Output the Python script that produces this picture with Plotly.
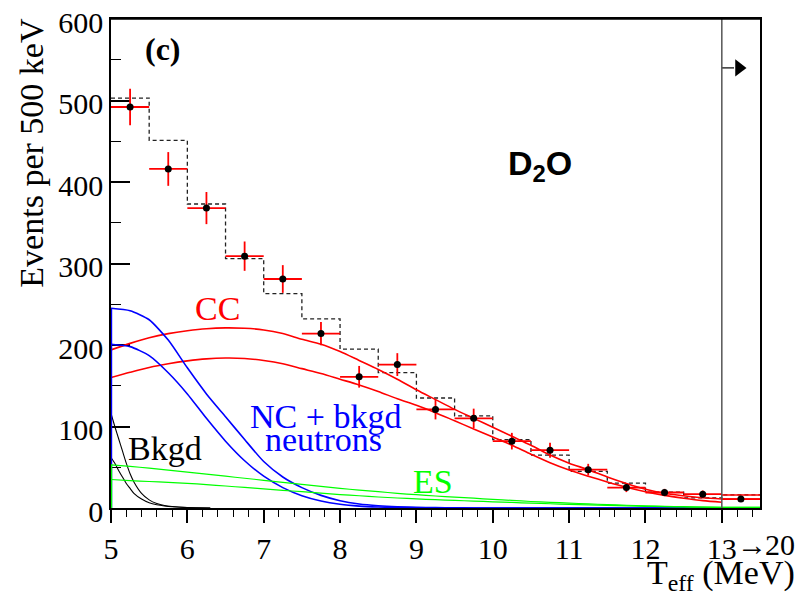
import plotly.graph_objects as go

# ---------------- data ----------------
bin_edges = [5.0, 5.5, 6.0, 6.5, 7.0, 7.5, 8.0, 8.5, 9.0, 9.5, 10.0, 10.5,
             11.0, 11.5, 12.0, 12.5, 13.0, 13.5]
bin_centers = [5.25, 5.75, 6.25, 6.75, 7.25, 7.75, 8.25, 8.75, 9.25, 9.75,
               10.25, 10.75, 11.25, 11.75, 12.25, 12.75, 13.25]
data_counts = [492, 416, 368, 309, 281, 214, 161, 176, 121, 110, 82, 71, 47,
               25, 19, 17, 11]
data_err = [22.5, 20.7, 19.7, 18, 17, 14.3, 13.3, 14, 12.3, 11.9, 10.2, 9.2,
            7.2, 5.5, 4.5, 4.5, 3.5]
mc_hist = [503, 451, 373, 306, 263, 232, 195, 166, 135, 113, 84, 65, 45, 30.5,
           19.5, 12.5, 16]

curve_x = [5.0, 5.25, 5.5, 5.75, 6.0, 6.25, 6.5, 6.75, 7.0, 7.25, 7.5, 7.75,
           8.0, 8.25, 8.5, 8.75, 9.0, 9.25, 9.5, 9.75, 10.0, 10.25, 10.5,
           10.75, 11.0, 11.25, 11.5, 11.75, 12.0, 12.25, 12.5, 12.75, 13.0]
cc_upper = [194, 202, 209, 214, 217.5, 220, 221, 220.5, 218.5, 214, 207, 201,
            192, 181, 170, 158, 145, 133, 121, 110, 99, 88, 77, 65, 55, 47,
            38, 30, 23, 18, 15, 12.5, 11]
cc_lower = [160, 166.5, 172.5, 177, 180.5, 183, 184, 183.5, 181, 177, 171,
            165, 158, 151, 143, 134, 126, 117, 107, 97, 87, 77, 66, 55.5,
            46.5, 39, 32, 25.5, 20, 15.5, 12, 9, 7]
cc_lastbin = [16, 11]          # flat CC values in the 13 -> 20 MeV bin
nc_upper = [245, 242, 231, 206, 172, 140, 112, 84, 57, 38, 25, 15.5, 9, 5,
            2.8, 1.5, 0.8, 0.4, 0.2, 0, 0, 0, 0, 0, 0, 0, 0, 0, 0, 0, 0, 0, 0]
nc_lower = [201, 198, 187, 166, 140, 110, 82, 58, 39, 25, 15, 8.5, 4.5, 2.3,
            1.2, 0.6, 0.3, 0.1, 0, 0, 0, 0, 0, 0, 0, 0, 0, 0, 0, 0, 0, 0, 0]
es_upper = [53, 51, 49, 46.5, 44, 41.5, 39, 36.5, 34, 31.5, 29, 26.5, 24, 22,
            20, 18, 16.3, 14.7, 13.3, 12, 10.6, 9.3, 8, 7, 6, 5, 4.2, 3.4,
            2.7, 2.1, 1.6, 1.2, 0.9]
es_lower = [35, 33.7, 32.5, 31.5, 30.3, 28.7, 27, 25.2, 23.5, 21.7, 20, 18.2,
            16.5, 15, 13.5, 12.3, 11.2, 10.2, 9.3, 8.5, 7.6, 6.8, 6, 5.2, 4.5,
            3.8, 3.2, 2.6, 2.1, 1.7, 1.3, 1.0, 0.7]
bkgd_x = [5.0, 5.05, 5.1, 5.15, 5.2, 5.25, 5.3, 5.4, 5.5, 5.6, 5.7, 5.8, 6.0,
          6.3]
bkgd_upper = [116, 100, 85, 70, 55, 42, 32, 18, 10, 5.5, 3, 1.8, 0.6, 0]
bkgd_lower = [62, 55, 46, 38, 30, 24, 18, 11, 6.5, 4, 2.5, 1.5, 0.5, 0]

x_tickvals = [5, 6, 7, 8, 9, 10, 11, 12, 13]
x_ticktext = ["5", "6", "7", "8", "9", "10", "11", "12", "13"]
y_tickvals = [0, 100, 200, 300, 400, 500, 600]
arrow_y = 540

RED = "#ff0000"
BLUE = "#0000ff"
GREEN = "#00ff00"
SERIF = "Liberation Serif, Times New Roman, serif"

fig = go.Figure()


def edge_segment(y_top, color, width):
    """vertical piece of a curve drawn up the left edge (x = 5)"""
    fig.add_trace(go.Scatter(x=[curve_x[0], curve_x[0]], y=[0, y_top],
                             mode="lines", line=dict(color=color, width=width),
                             hoverinfo="skip"))


# dashed MC histogram
fig.add_trace(go.Scatter(x=bin_edges, y=mc_hist + [mc_hist[-1]], mode="lines",
                         line=dict(shape="hv", color="#222", width=1.3,
                                   dash="4px,3px"), hoverinfo="skip"))

# background curves
edge_segment(bkgd_upper[0], "black", 2)
for ys in (bkgd_upper, bkgd_lower):
    fig.add_trace(go.Scatter(x=bkgd_x, y=ys, mode="lines",
                             line=dict(color="black", width=1.1, shape="spline",
                                       smoothing=0.6)))
# CC curves
for ys, last in ((cc_upper, cc_lastbin[0]), (cc_lower, cc_lastbin[1])):
    fig.add_trace(go.Scatter(x=curve_x, y=ys, mode="lines",
                             line=dict(color=RED, width=1.6, shape="spline",
                                       smoothing=0.8)))
    fig.add_trace(go.Scatter(x=[13.0, 13.5], y=[last, last], mode="lines",
                             line=dict(color=RED, width=1.6)))
# NC curves
edge_segment(nc_upper[0], BLUE, 2.4)
for ys in (nc_upper, nc_lower):
    fig.add_trace(go.Scatter(x=curve_x + [13.5], y=ys + [ys[-1]], mode="lines",
                             line=dict(color=BLUE, width=1.6, shape="spline",
                                       smoothing=0.6)))
# ES curves
edge_segment(es_upper[0], GREEN, 2.4)
for ys in (es_upper, es_lower):
    fig.add_trace(go.Scatter(x=curve_x + [13.5], y=ys + [ys[-1]], mode="lines",
                             line=dict(color=GREEN, width=1.2, shape="spline",
                                       smoothing=0.6)))

# data points
fig.add_trace(go.Scatter(
    x=bin_centers, y=data_counts, mode="markers",
    marker=dict(color="black", size=7, symbol="circle"),
    error_x=dict(type="constant", value=0.25, color=RED, thickness=1.8, width=0),
    error_y=dict(type="data", array=data_err, color=RED, thickness=1.8, width=0)))

# overflow arrow
fig.add_trace(go.Scatter(x=[13.0, 13.16], y=[arrow_y, arrow_y], mode="lines",
                         line=dict(color="black", width=1.2)))
fig.add_trace(go.Scatter(x=[13.225], y=[arrow_y], mode="markers",
                         marker=dict(symbol="triangle-right", size=15,
                                     color="black")))

fig.add_shape(type="line", x0=13, x1=13, y0=0, y1=600, xref="x", yref="y",
              line=dict(color="#555", width=1.5))
fig.add_shape(type="line", x0=5, x1=13.5, y0=600, y1=600, xref="x", yref="y",
              line=dict(color="black", width=1.5))

ann = [
    dict(text="<b>(c)</b>", x=5.68, y=563, font=dict(size=32, color="black",
                                                     family=SERIF)),
    dict(text="<b>D<sub>2</sub>O</b>", x=10.62, y=420,
         font=dict(size=34, color="black",
                   family="Liberation Sans, Arial, sans-serif")),
    dict(text="CC", x=6.40, y=245, font=dict(size=34, color=RED, family=SERIF)),
    dict(text="NC + bkgd", x=7.805, y=112.5,
         font=dict(size=34, color=BLUE, family=SERIF)),
    dict(text="neutrons", x=7.785, y=84,
         font=dict(size=34, color=BLUE, family=SERIF)),
    dict(text="Bkgd", x=5.708, y=73, font=dict(size=34, color="black",
                                               family=SERIF)),
    dict(text="ES", x=9.22, y=32.6, font=dict(size=34, color=GREEN,
                                              family=SERIF)),
]
for a in ann:
    fig.add_annotation(xref="x", yref="y", showarrow=False, xanchor="center",
                       yanchor="middle", **a)

fig.add_annotation(text="Events per 500 keV", xref="paper", yref="paper",
                   x=-0.1217, y=0.7267, textangle=-90, showarrow=False,
                   xanchor="center", yanchor="middle",
                   font=dict(size=34, color="black", family=SERIF))
fig.add_annotation(text="T<sub>eff</sub> (MeV)", xref="paper", yref="paper",
                   x=1.057, y=-0.137, showarrow=False, xanchor="right",
                   yanchor="middle",
                   font=dict(size=34, color="black", family=SERIF))
fig.add_annotation(text="\u2192", xref="paper", yref="paper",
                   x=0.9615, y=-0.0747, showarrow=False, xanchor="left",
                   yanchor="middle",
                   font=dict(size=30, color="black", family=SERIF))
fig.add_annotation(text="20", xref="paper", yref="paper",
                   x=1.004, y=-0.0747, showarrow=False, xanchor="left",
                   yanchor="middle",
                   font=dict(size=30, color="black", family=SERIF))

# the page body has an 8px margin, so the figure is 8px smaller than the window
fig.update_layout(
    width=801, height=590, showlegend=False,
    margin=dict(l=103, r=49, t=11, b=90, autoexpand=False),
    paper_bgcolor="white", plot_bgcolor="white",
    xaxis=dict(range=[5, 13.5], tickvals=x_tickvals, ticktext=x_ticktext,
               ticks="outside", ticklen=13, tickwidth=1.5, tickcolor="black",
               showline=True, linecolor="black", linewidth=1.5, mirror=True,
               showgrid=False, zeroline=False, automargin=False,
               ticklabeloverflow="allow",
               tickfont=dict(size=30, color="black", family=SERIF),
               minor=dict(dtick=0.2, tick0=5, ticks="outside", ticklen=7,
                          tickwidth=1.2, tickcolor="black", showgrid=False)),
    yaxis=dict(range=[0, 600], tickvals=y_tickvals, ticks="inside",
               ticklen=19, tickwidth=1.5, tickcolor="black",
               showline=True, linecolor="black", linewidth=1.5, mirror=True,
               showgrid=False, zeroline=False, layer="below traces",
               automargin=False, ticklabeloverflow="allow",
               ticklabelshift=3,
               tickfont=dict(size=30, color="black", family=SERIF),
               minor=dict(dtick=50, ticks="inside", ticklen=10, tickwidth=1.2,
                          tickcolor="black", showgrid=False)),
)

fig.write_html("out.html")
